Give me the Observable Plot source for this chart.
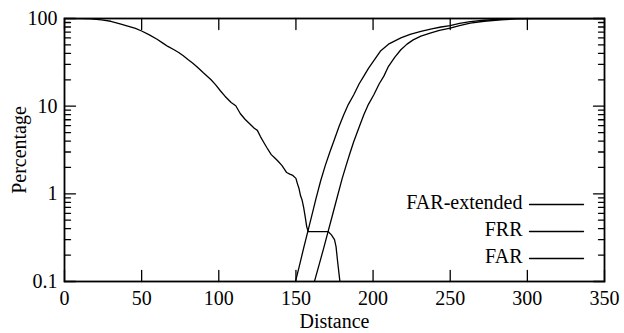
<!DOCTYPE html>
<html><head><meta charset="utf-8">
<script src="https://cdn.jsdelivr.net/npm/d3@7"></script>
<script src="https://cdn.jsdelivr.net/npm/@observablehq/plot@0.6"></script>
<style>
html,body{margin:0;padding:0;background:#fff;}
#chart svg{display:block;}
#chart svg, #chart svg text{font-family:"Liberation Serif", "Times New Roman", serif !important; font-size:20px !important;}
</style></head><body><div id="chart"></div>
<script>
// ---- data ----
const frrX = [0, 10, 17, 24, 30, 36, 41, 46, 50, 55, 60, 64, 67, 71, 74, 77, 80, 83, 86, 90, 95, 98, 101, 104, 108, 111, 114, 117, 120, 123, 125, 127, 129, 131, 134, 136, 138, 141, 144, 146, 148, 150, 151, 152, 153, 154, 155, 156, 157, 158, 171, 173, 175, 176, 177, 178, 178.5];
const frrY = [100, 99.8, 99, 96.5, 93, 87, 82, 77, 72, 65, 58, 52, 48, 44, 41, 37.5, 34, 31, 28, 24, 20, 17.5, 15, 13, 11, 10.1, 8.2, 7.1, 6.3, 5.6, 5.3, 4.5, 3.9, 3.4, 2.8, 2.6, 2.4, 2.1, 1.75, 1.68, 1.62, 1.5, 1.3, 1.15, 0.95, 0.85, 0.7, 0.55, 0.42, 0.37, 0.37, 0.34, 0.3, 0.25, 0.17, 0.12, 0.1];

const farX = [149.7, 152, 155, 158, 160, 163, 166, 169, 172, 175, 178, 181, 184, 187.5, 191, 194, 197, 200.5, 205, 210, 218, 224, 231, 238, 244, 250, 256, 263, 272, 282, 292, 302, 350];
const farY = [0.1, 0.145, 0.24, 0.39, 0.54, 0.88, 1.4, 2.1, 3.0, 4.2, 5.9, 8.0, 10.5, 13.5, 18, 22, 27, 33, 43, 51, 60, 66, 71.5, 76, 80, 83, 88, 92, 95.5, 98, 99.5, 100, 100];

const farExtX = [162, 165, 168, 171, 174, 177, 180, 182.5, 185, 187.5, 191, 194, 197, 200.5, 204, 207, 210, 214, 218, 222, 226, 231, 237, 243, 250, 256, 263, 272, 283, 293, 305, 350];
const farExtY = [0.1, 0.155, 0.24, 0.38, 0.6, 0.95, 1.5, 2.1, 2.9, 3.96, 5.8, 8.0, 10.5, 13.5, 18, 22, 28.5, 36, 44, 51, 57, 63, 68, 73, 77.5, 83, 88.5, 93, 96.6, 98.8, 100, 100];

const xTicks = [0, 50, 100, 150, 200, 250, 300, 350];
const yTicks = [0.1, 1, 10, 100];
const yMinor = [0.2, 0.3, 0.4, 0.5, 0.6, 0.7, 0.8, 0.9, 2, 3, 4, 5, 6, 7, 8, 9, 20, 30, 40, 50, 60, 70, 80, 90];
const legendLabels = ["FAR-extended", "FRR", "FAR"];
const xLabel = "Distance";
const yLabel = "Percentage";

// ---- chart ----
const rows = (xs, ys) => xs.map((x, i) => ({x, y: ys[i]}));
const seg = {draw(ctx, l) { ctx.moveTo(0, 0); ctx.lineTo(0, -l); }};
const ink = "#000";
const curve = {x: "x", y: "y", stroke: ink, strokeWidth: 1.3, clip: true};
const tk = (data, ch, anchor, rot, len) =>
  Plot.vector(data, {[ch]: d => d, frameAnchor: anchor, anchor: "start", rotate: rot, length: len, shape: seg, stroke: ink, strokeWidth: 1.3});

const legendDy = [-77, -50, -23];
const legendMarks = legendLabels.flatMap((lab, i) => [
  Plot.text([lab], {text: d => d, frameAnchor: "bottom-right", textAnchor: "end", dx: -82, dy: legendDy[i] + 4, fill: ink}),
  Plot.vector([lab], {frameAnchor: "bottom-right", anchor: "start", rotate: 90, length: 54, dx: -75, dy: legendDy[i], shape: seg, stroke: ink, strokeWidth: 1.3})
]);

const chart = Plot.plot({
  width: 624, height: 333,
  marginLeft: 64, marginRight: 20, marginTop: 18, marginBottom: 52,
  style: {fontFamily: "Liberation Serif", fontSize: "20px", color: ink, background: "#fff"},
  x: {domain: [0, 350]},
  y: {type: "log", domain: [0.1, 100]},
  marks: [
    Plot.line(rows(frrX, frrY), curve),
    Plot.line(rows(farX, farY), curve),
    Plot.line(rows(farExtX, farExtY), curve),
    tk(xTicks, "x", "bottom", 0, 11),
    tk(xTicks, "x", "top", 180, 11),
    tk(yTicks, "y", "left", 90, 11),
    tk(yTicks, "y", "right", -90, 11),
    tk(yMinor, "y", "left", 90, 6),
    tk(yMinor, "y", "right", -90, 6),
    Plot.axisX(xTicks, {tickSize: 0, tickPadding: 9, label: xLabel, labelAnchor: "center", labelArrow: "none", labelOffset: 46, fill: ink}),
    Plot.axisY(yTicks, {tickSize: 0, tickPadding: 7, tickFormat: d => String(d), label: yLabel, labelAnchor: "center", labelArrow: "none", labelOffset: 53, fill: ink}),
    Plot.frame({stroke: ink, strokeWidth: 1.8}),
    ...legendMarks
  ]
});
document.getElementById("chart").appendChild(chart);
</script></body></html>
